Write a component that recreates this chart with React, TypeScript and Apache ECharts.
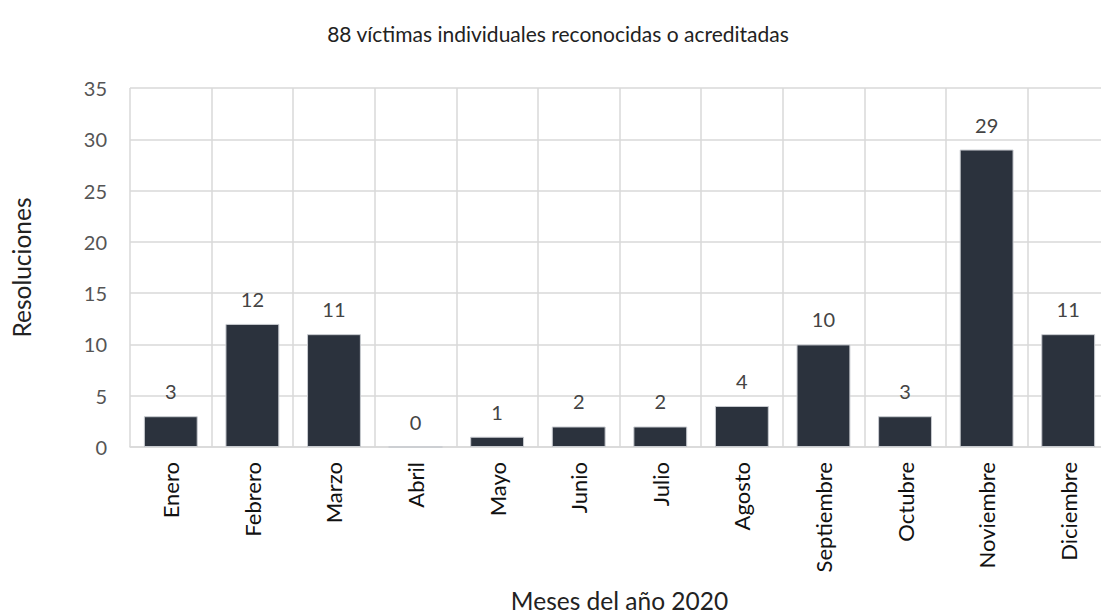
import React, { useEffect, useRef } from "react";
import * as echarts from "echarts";

const months = ["Enero", "Febrero", "Marzo", "Abril", "Mayo", "Junio", "Julio", "Agosto", "Septiembre", "Octubre", "Noviembre", "Diciembre"];
const resoluciones = [3, 12, 11, 0, 1, 2, 2, 4, 10, 3, 29, 11];
const titleText = "88 víctimas individuales reconocidas o acreditadas";
const yName = "Resoluciones";
const xName = "Meses del año 2020";

export default function App() {
  const ref = useRef<HTMLDivElement>(null);
  useEffect(() => {
    if (!ref.current) return;
    const chart = echarts.init(ref.current, undefined, { renderer: "svg" });
    const font = "Lato, 'Open Sans', sans-serif";
    chart.setOption({
      animation: false,
      textStyle: { fontFamily: font },
      title: {
        text: titleText,
        left: 553,
        top: 18,
        textAlign: "center",
        textStyle: { fontSize: 21, fontWeight: "normal", color: "#222", fontFamily: font },
      },
      grid: { left: 130, width: 979, top: 88, bottom: 167, containLabel: false, outerBoundsMode: "none" },
      xAxis: {
        type: "category",
        data: months,
        name: xName,
        nameLocation: "middle",
        nameGap: 141,
        nameTextStyle: { fontSize: 24.5, color: "#222", fontFamily: font },
        axisLine: { show: true, lineStyle: { color: "#d9d9d9", width: 1.5 } },
        axisTick: { show: false },
        splitLine: { show: true, lineStyle: { color: "#d9d9d9", width: 1.5 } },
        axisLabel: { rotate: 90, fontSize: 22, color: "#111", margin: 15, fontFamily: font },
      },
      yAxis: {
        type: "value",
        min: 0,
        max: 35,
        interval: 5,
        name: yName,
        nameLocation: "middle",
        nameGap: 96,
        nameRotate: 90,
        nameTextStyle: { fontSize: 24.5, color: "#222", fontFamily: font },
        axisLine: { show: false },
        axisTick: { show: false },
        splitLine: { show: true, lineStyle: { color: "#d9d9d9", width: 1.5 } },
        axisLabel: { fontSize: 20, color: "#555", margin: 23, fontFamily: font },
      },
      series: [
        {
          type: "bar",
          data: resoluciones,
          barWidth: "66%",
          itemStyle: { color: "#2b323d", borderColor: "#c8cbd0", borderWidth: 1 },
          label: {
            show: true,
            position: "top",
            distance: 15,
            fontSize: 20,
            color: "#444",
            fontFamily: font,
          },
        },
      ],
    });
    return () => chart.dispose();
  }, []);
  return <div ref={ref} style={{ width: 1101, height: 614, position: "absolute", left: 0, top: 0 }} />;
}
